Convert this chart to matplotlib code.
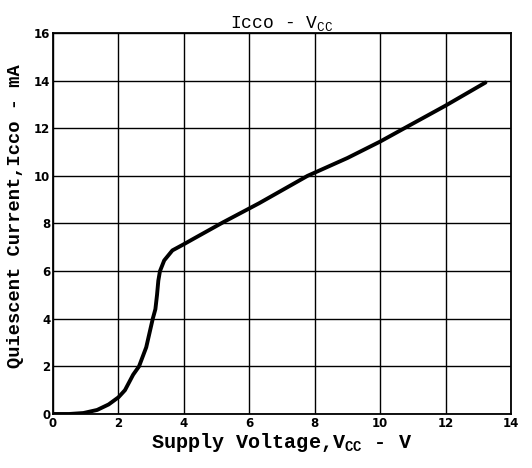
import numpy as np
import matplotlib.pyplot as plt

# Icco vs Vcc curve
vcc = [0.0, 0.5, 0.93, 1.35, 1.7, 2.0, 2.2, 2.45, 2.63, 2.85, 3.05, 3.13, 3.18, 3.22,
       3.27, 3.4, 3.65, 4.0, 4.35, 5.2, 6.3, 7.78, 9.0, 10.0, 10.74, 12.0, 13.22]
icco = [0.0, 0.0, 0.04, 0.17, 0.4, 0.7, 1.0, 1.65, 2.0, 2.8, 4.0, 4.4, 5.0, 5.6,
        6.0, 6.45, 6.87, 7.13, 7.4, 8.05, 8.85, 10.0, 10.75, 11.44, 12.0, 12.95, 13.92]
x_ticks = [0, 2, 4, 6, 8, 10, 12, 14]
y_ticks = [0, 2, 4, 6, 8, 10, 12, 14, 16]

plt.rcParams['mathtext.fontset'] = 'custom'
plt.rcParams['mathtext.rm'] = 'Liberation Mono'
plt.rcParams['mathtext.bf'] = 'Liberation Mono:bold'

fig = plt.figure(figsize=(5.32, 4.68), dpi=100)
ax = fig.add_axes([0.0996, 0.1154, 0.8609, 0.8141])
ax.plot(vcc, icco, color='black', linewidth=2.8, solid_capstyle='round', solid_joinstyle='round')
ax.set_xlim(0, 14)
ax.set_ylim(0, 16)
ax.set_xticks(x_ticks)
ax.set_yticks(y_ticks)
ax.grid(True, color='black', linewidth=1.0)
ax.tick_params(length=0, pad=2, labelsize=8.5)
for lbl in ax.get_xticklabels() + ax.get_yticklabels():
	lbl.set_fontweight('bold')
	lbl.set_family('DejaVu Sans')
for sp in ax.spines.values():
	sp.set_linewidth(1.3)
ax.set_title('Icco - V$_{\\rm CC}$', family='Liberation Mono', fontsize=13, pad=3)
ax.set_xlabel('Supply Voltage,V$_{\\bf CC}$ - V', family='Liberation Mono', fontweight='bold', fontsize=14.5, labelpad=1)
ax.set_ylabel('Quiescent Current,Icco - mA', family='Liberation Mono', fontweight='bold', fontsize=13.5)
ax.yaxis.set_label_coords(-0.063, 0.52)
fig.savefig('out.png', dpi=100)
